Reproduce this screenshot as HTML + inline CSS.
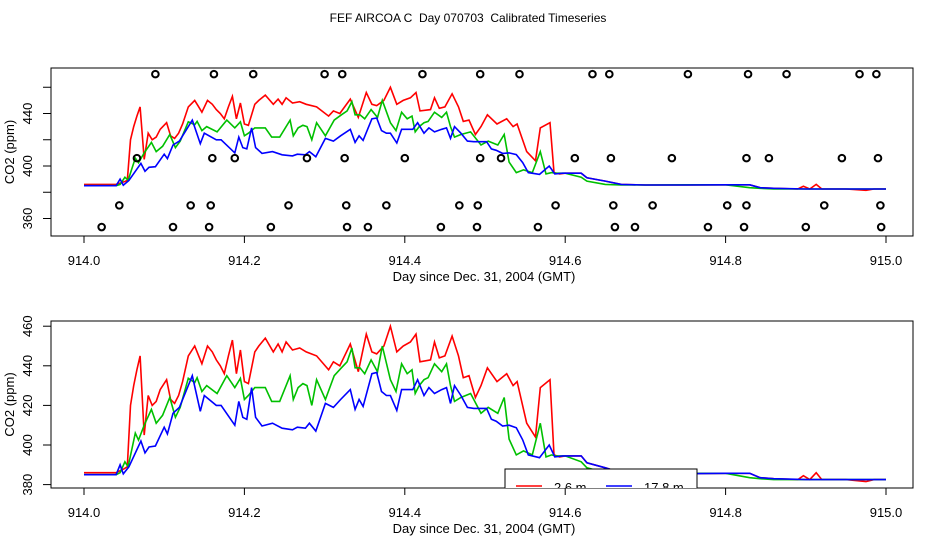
<!DOCTYPE html>
<html><head><meta charset="utf-8"><style>
html,body{margin:0;padding:0;background:#fff;}
svg{display:block;font-family:"Liberation Sans",sans-serif;}
</style></head><body>
<svg id="chart" width="936" height="540" viewBox="0 0 936 540" xmlns="http://www.w3.org/2000/svg">
<text x="468" y="22" font-size="12" text-anchor="middle" style="white-space:pre" xml:space="preserve">FEF AIRCOA C  Day 070703  Calibrated Timeseries</text>
<defs>
<clipPath id="clip1"><rect x="51" y="68" width="862" height="168"/></clipPath>
<clipPath id="clip2"><rect x="51" y="321" width="862" height="167"/></clipPath>
</defs>
<g id="p1"></g>
<g id="p2"></g>
</svg>
<script>
// Red series (2.6 m) - day offsets from 914 and ppm values
const redT = [0,0.04,0.045,0.05,0.054,0.058,0.062,0.066,0.07,0.075,0.08,0.085,0.09,0.095,0.103,0.108,0.113,0.118,0.123,0.13,0.138,0.142,0.147,0.154,0.16,0.165,0.17,0.175,0.18,0.185,0.19,0.195,0.2,0.205,0.213,0.218,0.226,0.236,0.242,0.247,0.252,0.26,0.269,0.277,0.29,0.305,0.311,0.319,0.332,0.342,0.352,0.359,0.365,0.374,0.382,0.39,0.398,0.407,0.414,0.419,0.432,0.437,0.443,0.45,0.459,0.467,0.473,0.48,0.488,0.495,0.503,0.515,0.527,0.535,0.54,0.552,0.563,0.569,0.581,0.586,0.593,0.6,0.62,0.627,0.65,0.67,0.7,0.75,0.8,0.83,0.843,0.86,0.89,0.897,0.905,0.913,0.92,0.95,0.975,0.985,1.0];
const redV = [386,386,387,388,389,420,430,438,445,405,425,420,422,428,433,423,421,425,432,445,450,446,441,450,447,443,440,436,445,453,436,448,432,431,447,450,454,447,451,447,452,448,449,447,445,438,442,440,451,437,456,447,446,450,460,447,450,452,456,442,443,452,444,445,455,445,434,435,424,430,439,432,436,430,432,411,404,429,433,395,394,394.5,394.5,391,388.5,386,385.5,385.5,385.7,385.7,383.5,383,382.5,384.5,382.5,386,382.5,382.5,381.5,382.5,382.5];
// Green series (middle level)
const greenT = [0,0.04,0.045,0.051,0.055,0.064,0.068,0.075,0.084,0.09,0.098,0.107,0.114,0.12,0.13,0.138,0.141,0.147,0.153,0.166,0.178,0.188,0.195,0.2,0.205,0.213,0.223,0.226,0.234,0.244,0.257,0.261,0.267,0.273,0.278,0.284,0.29,0.301,0.312,0.321,0.328,0.334,0.338,0.344,0.35,0.358,0.366,0.372,0.382,0.389,0.396,0.403,0.409,0.413,0.418,0.424,0.429,0.437,0.446,0.452,0.457,0.462,0.47,0.482,0.495,0.504,0.516,0.524,0.53,0.539,0.548,0.559,0.569,0.576,0.583,0.588,0.6,0.62,0.627,0.65,0.67,0.7,0.75,0.8,0.83,0.843,0.86,0.9,0.95,1.0];
const greenV = [385,385,386,391.5,389,406,402.5,410,418,411,415,424,414,419,433.7,431.5,434,427,430,426,435,429,433.7,423,425,429,429,429,422,422,435,423,429,431,430,420,433,423,435,439,442,449,439,439,436,443,437,450,433,427,441,436,438,426,430,433,434,441,437,441,430,422,424,426,416,419,416,424,403,395,397,395,411,394,395,394.5,394.5,391.5,388.5,386,385.5,385.5,385.7,385.7,383.5,383,382.5,382.5,382.5,382.5];
// Blue series (17.8 m)
const blueT = [0,0.04,0.045,0.049,0.056,0.071,0.076,0.081,0.089,0.1,0.104,0.111,0.119,0.135,0.145,0.15,0.165,0.171,0.188,0.193,0.198,0.203,0.209,0.214,0.222,0.235,0.247,0.26,0.266,0.276,0.281,0.289,0.301,0.311,0.32,0.332,0.338,0.343,0.348,0.359,0.365,0.371,0.377,0.382,0.39,0.396,0.41,0.416,0.424,0.43,0.437,0.446,0.452,0.457,0.462,0.47,0.478,0.486,0.502,0.508,0.514,0.522,0.53,0.539,0.547,0.554,0.568,0.58,0.587,0.597,0.62,0.627,0.65,0.67,0.7,0.75,0.8,0.83,0.843,0.86,0.9,0.95,1.0];
const blueV = [385,385,390,385.4,389,402,396,399,399.5,409,405.6,416,419,435,417,425,420,420,410,422,414,413,429,414,409.6,411,408.5,407.7,409,408.5,411,407,421,419,423,428,418,423,419.5,436,436.6,427,425,425,417.5,428,428,433,425,429,426,428,429,421,430,425,419,418.5,418.5,413,412,409.6,410,408.7,402.6,395,393.6,400,394,394.5,394.5,391,388.5,386,385.5,385.5,385.7,385.7,383.5,383,382.5,382.5,382.5];
// Flag circles (top panel): day offsets and ppm level
const flagT = [0.089,0.162,0.211,0.3,0.322,0.422,0.494,0.543,0.634,0.655,0.753,0.828,0.876,0.967,0.988,
  0.066,0.16,0.188,0.278,0.325,0.4,0.494,0.52,0.612,0.657,0.733,0.826,0.854,0.945,0.99,
  0.044,0.133,0.158,0.255,0.327,0.377,0.468,0.491,0.588,0.66,0.709,0.802,0.826,0.923,0.993,
  0.022,0.111,0.156,0.233,0.328,0.354,0.445,0.49,0.566,0.662,0.687,0.778,0.823,0.9,0.994];
const flagV = [470,470,470,470,470,470,470,470,470,470,470,470,470,470,470,
  406,406,406,406,406,406,406,406,406,406,406,406,406,406,406,
  370,370,370,370,370,370,370,370,370,370,370,370,370,370,370,
  353.5,353.5,353.5,353.5,353.5,353.5,353.5,353.5,353.5,353.5,353.5,353.5,353.5,353.5,353.5];
const xTicks = [914.0,914.2,914.4,914.6,914.8,915.0];
const xTickLabels = ["914.0","914.2","914.4","914.6","914.8","915.0"];
const y1Ticks = [360,380,400,420,440,460];
const y1Labels = ["360","","400","","440",""];
const y2Ticks = [380,400,420,440,460];
const y2Labels = ["380","400","420","440","460"];
const legendLabels = ["2.6 m","17.8 m"];

const NS="http://www.w3.org/2000/svg";
function mk(tag,attrs,parent){const e=document.createElementNS(NS,tag);for(const k in attrs)e.setAttribute(k,attrs[k]);parent.appendChild(e);return e;}
const xs = d => 84 + (d-914)*802;
function panel(g, box, yScale, yTicks, yLabels, clipId, withFlags){
  const fr=mk('rect',{x:box.l,y:box.t,width:box.r-box.l,height:box.b-box.t,fill:'none',stroke:'#000','stroke-width':1},g);
  
  
  xTicks.forEach((v,i)=>{
    const x=xs(v);
    const tk=mk('line',{x1:x,x2:x,y1:box.b,y2:box.b+7,stroke:'#000'},g);
    
    
    const t=mk('text',{x:x,y:box.b+29,'font-size':13,'text-anchor':'middle'},g);
    t.textContent=xTickLabels[i];
    
    
  });
  const xt=mk('text',{x:484,y:box.b+45,'font-size':13,'text-anchor':'middle'},g);
  xt.textContent='Day since Dec. 31, 2004 (GMT)';
  
  
  yTicks.forEach((v,i)=>{
    const y=yScale(v);
    const tk=mk('line',{x1:box.l-8,x2:box.l,y1:y,y2:y,stroke:'#000'},g);
    
    
    if(yLabels[i]){
      const t=mk('text',{x:0,y:0,'font-size':13,'text-anchor':'middle',transform:`translate(32,${y}) rotate(-90)`},g);
      t.textContent=yLabels[i];
      
      
    }
  });
  const yt=mk('text',{x:0,y:0,'font-size':13,'text-anchor':'middle',transform:`translate(14,${(box.t+box.b)/2}) rotate(-90)`},g);
  yt.textContent='CO2 (ppm)';
  
  
  const cg=mk('g',{'clip-path':`url(#${clipId})`},g);
  const series=[[redT,redV,'#ff0000','red-2.6m-line'],[greenT,greenV,'#00c000','green-mid-line'],[blueT,blueV,'#0000ff','blue-17.8m-line']];
  series.forEach(s=>{
    const pts=s[0].map((t,i)=>xs(914+t).toFixed(1)+','+yScale(s[1][i]).toFixed(1)).join(' ');
    const p=mk('polyline',{points:pts,fill:'none',stroke:s[2],'stroke-width':1.6,'stroke-linejoin':'miter'},cg);
    
    
  });
  if(withFlags){
    flagT.forEach((t,i)=>{
      const c=mk('circle',{cx:xs(914+t),cy:yScale(flagV[i]),r:3.3,fill:'none',stroke:'#000','stroke-width':2},cg);
      
      
    });
  } else {
    const lg=mk('g',{},cg);
    
    
    mk('rect',{x:505,y:469,width:192,height:40,fill:'#fff',stroke:'#000'},lg);
    mk('line',{x1:516,x2:542,y1:486,y2:486,stroke:'#ff0000','stroke-width':1.5},lg);
    const a=mk('text',{x:554,y:492,'font-size':13},lg);a.textContent=legendLabels[0];
    
    
    mk('line',{x1:606,x2:632,y1:486,y2:486,stroke:'#0000ff','stroke-width':1.5},lg);
    const b=mk('text',{x:644,y:492,'font-size':13},lg);b.textContent=legendLabels[1];
    
    
  }
}
panel(document.getElementById('p1'),{l:51,r:913,t:68,b:236},v=>166-(v-400)*1.3125,y1Ticks,y1Labels,'clip1',true);
panel(document.getElementById('p2'),{l:51,r:913,t:321,b:488},v=>445-(v-400)*1.98,y2Ticks,y2Labels,'clip2',false);
</script>
</body></html>
